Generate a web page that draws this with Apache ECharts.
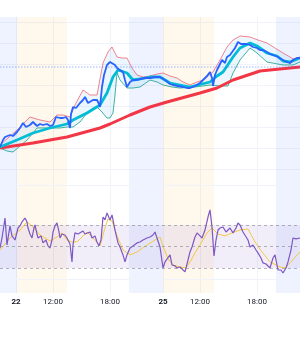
<!DOCTYPE html>
<html>
<head>
<meta charset="utf-8">
<script src="https://cdn.jsdelivr.net/npm/echarts@6/dist/echarts.min.js"></script>
<style>
  html, body { margin: 0; padding: 0; background: #fff; }
  #chart { width: 300px; height: 350px; }
</style>
</head>
<body>
<div id="chart"></div>
<script>
// bar index (time) for the x axis, one category per bar
const barCount = 301;
const categories = Array.from({ length: barCount }, (_, i) => String(i));

// tick labels on the time axis
const labelIdx = [16, 53, 110, 163, 200, 257];
const labelText = ['22', '12:00', '18:00', '25', '12:00', '18:00'];
const dayLabels = ['22', '25'];

// session backgrounds [from, to] in bars
const preSessions = [[17, 67], [163, 214]];
const postSessions = [[0, 17], [129, 163], [276, 300]];

// price, [bar, value]
const price = [
  [0, 4726], [3, 4733], [5, 4736], [7, 4734], [10, 4738], [13, 4737], [17, 4741], [20, 4745],
  [23, 4750], [26, 4746], [30, 4748], [33, 4751], [37, 4747], [40, 4749], [43, 4748], [47, 4749],
  [50, 4747], [53, 4748], [56, 4756], [58, 4758], [60, 4755], [63, 4755], [66, 4756], [68, 4753],
  [70, 4745], [71, 4759], [73, 4766], [76, 4765], [80, 4770], [83, 4773], [85, 4776], [88, 4770],
  [90, 4771], [93, 4773], [97, 4773], [99, 4769], [100, 4766], [102, 4786], [104, 4798], [107, 4808],
  [110, 4811], [112, 4813], [115, 4808], [117, 4805], [120, 4803], [123, 4801], [125, 4793], [127, 4786],
  [130, 4791], [133, 4793], [137, 4793], [140, 4794], [145, 4795], [150, 4795], [155, 4796], [160, 4796],
  [165, 4793], [170, 4789], [173, 4788], [178, 4787], [183, 4786], [187, 4785], [190, 4785], [195, 4787],
  [200, 4790], [203, 4793], [207, 4797], [210, 4801], [212, 4795], [213, 4787], [215, 4798], [217, 4803],
  [220, 4809], [222, 4813], [225, 4810], [227, 4816], [230, 4818], [232, 4820], [235, 4825], [238, 4831],
  [241, 4829], [243, 4830], [247, 4829], [250, 4828], [253, 4826], [257, 4825], [260, 4823], [263, 4823],
  [267, 4821], [270, 4819], [273, 4818], [278, 4816], [283, 4813], [287, 4811], [290, 4810], [293, 4813],
  [297, 4815], [300, 4815]
];

// fast moving average
const maFast = [
  [0, 4726], [17, 4733], [33, 4740], [50, 4745], [67, 4749], [73, 4753], [87, 4760], [100, 4768],
  [107, 4780], [113, 4796], [118, 4803], [127, 4800], [133, 4793], [140, 4794], [150, 4796], [160, 4796],
  [170, 4790], [190, 4786], [210, 4791], [217, 4797], [223, 4801], [233, 4816], [240, 4825], [250, 4830],
  [257, 4827], [267, 4820], [277, 4817], [283, 4812], [290, 4811], [300, 4815]
];

// slow moving average
const maSlow = [
  [0, 4725], [33, 4730], [67, 4736], [100, 4745], [110, 4749], [130, 4758], [150, 4766], [167, 4771],
  [200, 4780], [217, 4785], [233, 4793], [260, 4802], [280, 4804], [300, 4806]
];

// envelope upper / lower
const upperBand = [
  [0, 4728], [17, 4743], [30, 4756], [40, 4753], [50, 4751], [57, 4758], [63, 4758], [70, 4756],
  [75, 4768], [83, 4783], [90, 4778], [97, 4778], [103, 4810], [108, 4821], [112, 4826], [117, 4816],
  [122, 4815], [127, 4815], [132, 4805], [137, 4798], [143, 4796], [150, 4797], [157, 4799], [163, 4800],
  [170, 4797], [177, 4795], [183, 4791], [190, 4788], [197, 4791], [203, 4793], [208, 4797], [213, 4801],
  [220, 4813], [227, 4826], [233, 4833], [240, 4837], [250, 4836], [258, 4833], [267, 4830], [275, 4825],
  [283, 4820], [290, 4816], [293, 4814], [300, 4816]
];
const lowerBand = [
  [0, 4725], [7, 4722], [13, 4721], [20, 4727], [27, 4733], [33, 4740], [37, 4745], [45, 4745],
  [53, 4745], [60, 4745], [67, 4746], [73, 4746], [80, 4751], [87, 4760], [93, 4765], [97, 4766],
  [102, 4761], [107, 4755], [110, 4755], [113, 4760], [115, 4778], [117, 4800], [120, 4793], [127, 4785],
  [133, 4785], [140, 4786], [150, 4793], [157, 4791], [163, 4788], [172, 4786], [180, 4785], [195, 4786],
  [210, 4788], [220, 4787], [228, 4787], [233, 4800], [240, 4813], [250, 4825], [257, 4820], [267, 4811],
  [283, 4808], [293, 4808], [300, 4811]
];
const lastPrice = 4806;

// RSI and its moving average
const rsi = [
  [0, 48.6], [2, 57.9], [4, 70.0], [5, 76.5], [7, 51.4], [9, 63.5], [10, 69.1], [12, 59.8],
  [15, 56.0], [18, 67.2], [20, 69.1], [22, 72.8], [25, 76.5], [27, 72.8], [28, 67.2], [30, 61.6],
  [32, 57.9], [34, 67.2], [35, 70.0], [37, 61.6], [38, 57.9], [41, 59.8], [43, 53.3], [46, 56.0],
  [48, 50.5], [50, 48.6], [52, 56.0], [53, 63.5], [55, 69.1], [57, 71.9], [59, 63.5], [60, 57.9],
  [62, 61.6], [65, 60.7], [67, 57.9], [68, 56.0], [70, 52.3], [72, 35.6], [73, 51.4], [75, 62.6],
  [78, 61.6], [80, 60.7], [83, 64.4], [85, 61.6], [87, 62.6], [90, 63.5], [92, 57.9], [95, 59.8],
  [97, 54.2], [99, 50.5], [101, 56.0], [103, 77.4], [105, 74.7], [107, 81.2], [110, 74.7], [112, 79.3],
  [115, 65.3], [118, 53.3], [120, 49.5], [123, 42.1], [125, 35.6], [127, 42.1], [130, 48.6], [133, 50.5],
  [137, 53.3], [140, 54.2], [143, 56.0], [147, 57.9], [150, 58.8], [153, 60.7], [155, 63.5], [157, 65.3],
  [160, 49.5], [163, 30.0], [165, 35.6], [167, 37.4], [170, 42.1], [172, 32.8], [175, 31.9], [177, 30.0],
  [180, 30.9], [182, 30.0], [185, 26.3], [188, 37.4], [190, 44.9], [192, 49.5], [195, 58.8], [197, 62.6],
  [200, 59.8], [202, 57.9], [205, 65.3], [208, 77.4], [210, 84.0], [212, 68.1], [214, 41.2], [216, 56.0],
  [218, 65.3], [220, 67.2], [223, 68.1], [226, 63.5], [228, 65.3], [230, 67.2], [233, 62.6], [236, 67.2],
  [238, 71.9], [240, 70.0], [243, 63.5], [245, 65.3], [248, 56.0], [250, 49.5], [253, 51.4], [256, 46.7],
  [258, 44.0], [261, 39.3], [263, 34.7], [266, 33.7], [268, 32.8], [270, 30.0], [273, 39.3], [275, 42.1],
  [278, 28.1], [281, 28.1], [283, 25.3], [286, 30.0], [288, 35.6], [291, 46.7], [293, 57.9], [296, 57.0],
  [300, 57.9]
];
const rsiMa = [
  [0, 46.7], [10, 57.9], [20, 65.3], [27, 72.8], [32, 69.1], [40, 60.7], [50, 55.1], [57, 58.8],
  [62, 62.6], [67, 56.0], [72, 54.2], [77, 54.2], [87, 63.5], [93, 57.9], [100, 50.5], [105, 67.2],
  [108, 75.6], [112, 73.7], [117, 59.8], [123, 46.7], [130, 42.1], [137, 44.9], [147, 51.4], [155, 56.0],
  [160, 58.8], [163, 50.5], [168, 38.4], [173, 32.8], [180, 30.9], [186, 30.0], [190, 35.6], [195, 44.0],
  [200, 51.4], [207, 62.6], [212, 67.2], [218, 61.6], [225, 59.8], [232, 62.6], [240, 65.3], [248, 66.3],
  [255, 54.2], [262, 44.9], [270, 35.6], [280, 30.9], [285, 30.0], [290, 34.7], [297, 42.1], [300, 44.9]
];
const rsiLevels = [70, 50, 30];
const rsiGrid = [107.2, 19.8];

const chart = echarts.init(document.getElementById('chart'), null, { renderer: 'canvas' });

const isLabel = (idx) => labelIdx.indexOf(idx) >= 0;
const hiddenX = (gridIndex) => ({
  type: 'category', gridIndex, data: categories, boundaryGap: false,
  axisLine: { show: false }, axisTick: { show: false }, axisLabel: { show: false }, splitLine: { show: false },
});

const sessionAreas = [];
preSessions.forEach(s => sessionAreas.push([{ xAxis: s[0], itemStyle: { color: 'rgba(255,152,0,0.07)' } }, { xAxis: s[1] }]));
postSessions.forEach(s => sessionAreas.push([{ xAxis: s[0], itemStyle: { color: 'rgba(41,98,255,0.08)' } }, { xAxis: s[1] }]));

const thinLine = (name, data, color, width, z) => ({
  name, type: 'line', xAxisIndex: 1, yAxisIndex: 1, data, symbol: 'none', z,
  lineStyle: { color, width }, silent: true,
});

chart.setOption({
  animation: false,
  grid: [
    { left: 0, right: 0, top: 17, height: 276 },
    { left: 0, right: 0, top: 22, height: 147 },
    { left: 0, right: 0, top: 175, height: 118 },
  ],
  xAxis: [
    {
      type: 'category', gridIndex: 0, data: categories, boundaryGap: false,
      axisLine: { show: false }, axisTick: { show: false },
      axisLabel: {
        interval: (idx) => isLabel(idx),
        margin: 5, fontSize: 8, color: '#131722', fontFamily: 'Roboto',
        formatter: (val, idx) => {
          const t = labelText[labelIdx.indexOf(Number(val))] || '';
          return dayLabels.indexOf(t) >= 0 ? '{b|' + t + '}' : t;
        },
        rich: { b: { fontSize: 8, fontWeight: 'bold', color: '#131722', fontFamily: 'Roboto' } },
      },
      splitLine: { show: true, interval: (idx) => isLabel(idx), lineStyle: { color: '#f0f3fa', width: 1 } },
    },
    hiddenX(1),
    hiddenX(2),
  ],
  yAxis: [
    { type: 'value', gridIndex: 0, min: 0, max: 1, show: false },
    {
      type: 'value', gridIndex: 1, min: 4704, max: 4851, interval: 21,
      axisLine: { show: false }, axisTick: { show: false }, axisLabel: { show: false },
      splitLine: { show: true, lineStyle: { color: '#f0f3fa', width: 1 } },
    },
    { type: 'value', gridIndex: 2, min: 6.7, max: 116.5, show: false, splitLine: { show: false } },
  ],
  series: [
    {
      name: 'sessions', type: 'line', xAxisIndex: 0, yAxisIndex: 0, data: [], symbol: 'none', z: 0, silent: true,
      markArea: { silent: true, data: sessionAreas },
    },
    {
      name: 'envelope', type: 'custom', xAxisIndex: 1, yAxisIndex: 1, z: 1, silent: true,
      data: [[0, lastPrice]],
      renderItem: (params, api) => {
        const pts = upperBand.map(p => api.coord(p)).concat(lowerBand.slice().reverse().map(p => api.coord(p)));
        return { type: 'polygon', shape: { points: pts }, style: { fill: 'rgba(33,150,243,0.09)' } };
      },
    },
    thinLine('upper', upperBand, 'rgba(242,54,69,0.6)', 1, 2),
    thinLine('lower', lowerBand, 'rgba(8,153,129,0.75)', 1, 2),
    thinLine('slow MA', maSlow, '#f23645', 3, 3),
    thinLine('fast MA', maFast, '#00bcd4', 2.8, 4),
    Object.assign(thinLine('price', price, '#2962ff', 1.8, 5), {
      markLine: {
        silent: true, symbol: 'none', label: { show: false },
        lineStyle: { color: 'rgba(41,98,255,0.3)', type: 'dotted', width: 1.5 },
        data: [{ yAxis: lastPrice }],
      },
    }),
    {
      name: 'RSI', type: 'line', xAxisIndex: 2, yAxisIndex: 2, data: rsi, symbol: 'none', z: 4, silent: true,
      lineStyle: { color: '#7e57c2', width: 1.2 },
      markArea: {
        silent: true, itemStyle: { color: 'rgba(126,87,194,0.1)' },
        data: [[{ yAxis: rsiLevels[0] }, { yAxis: rsiLevels[2] }]],
      },
      markLine: {
        silent: true, symbol: 'none', label: { show: false },
        data: rsiLevels.map(v => ({ yAxis: v, lineStyle: { color: 'rgba(120,123,134,0.55)', type: [3, 3], width: 1 } }))
          .concat(rsiGrid.map(v => ({ yAxis: v, lineStyle: { color: '#f0f3fa', type: 'solid', width: 1 } }))),
      },
    },
    {
      name: 'RSI MA', type: 'line', xAxisIndex: 2, yAxisIndex: 2, data: rsiMa, symbol: 'none', z: 3, silent: true,
      lineStyle: { color: '#f5c842', width: 1 },
    },
  ],
});
</script>
</body>
</html>
